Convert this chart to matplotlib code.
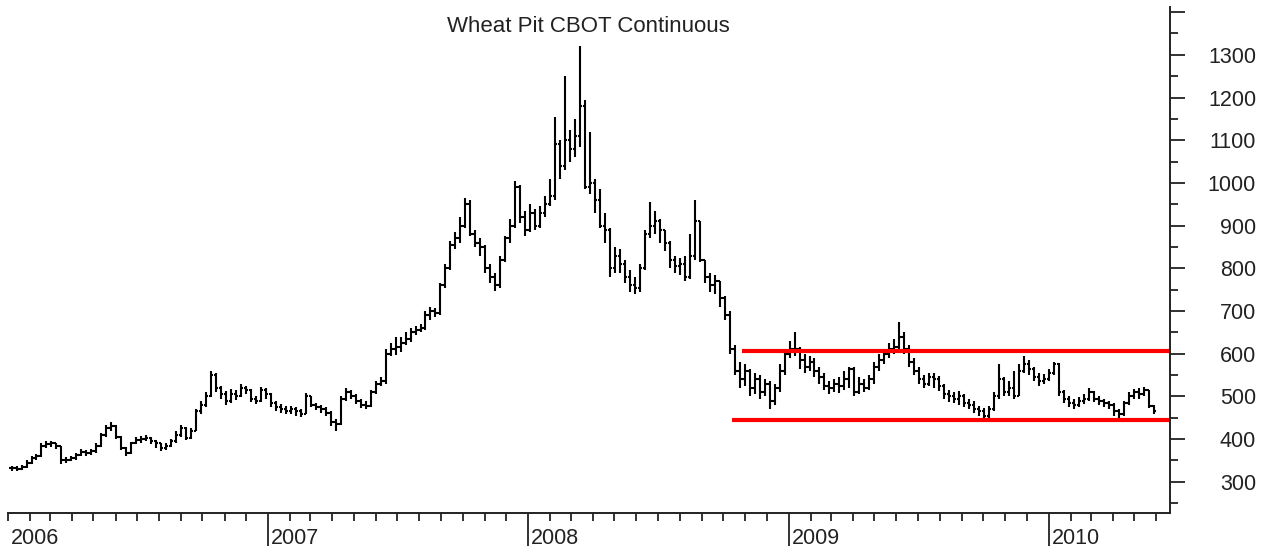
import pandas as pd
import matplotlib.pyplot as plt
import matplotlib.dates as mdates
from matplotlib.ticker import MultipleLocator, FixedLocator, NullFormatter

plt.rcParams['font.family'] = ['Liberation Sans', 'DejaVu Sans']

# weekly bars, Wheat Pit CBOT continuous (cents/bushel)
closes = [332, 330, 335, 345, 355, 360, 385, 388, 390, 385,
          350, 352, 355, 362, 370, 368, 372, 385, 410, 425,
          430, 405, 380, 368, 390, 398, 400, 402, 395, 390,
          380, 385, 395, 410, 425, 403, 420, 465, 480, 500,
          550, 520, 505, 490, 505, 500, 520, 515, 495, 490,
          515, 505, 485, 475, 470, 465, 470, 465, 460, 500,
          480, 475, 470, 462, 440, 435, 495, 510, 500, 490,
          480, 478, 510, 530, 535, 600, 610, 615, 625, 635,
          650, 655, 660, 690, 700, 695, 760, 800, 855, 870,
          900, 950, 880, 860, 850, 800, 780, 760, 820, 870,
          900, 990, 920, 890, 930, 900, 930, 950, 970, 1090,
          1040, 1100, 1080, 1110, 1180, 990, 1000, 960, 900, 890,
          800, 830, 810, 780, 760, 755, 800, 880, 900, 910,
          890, 860, 820, 805, 810, 780, 830, 910, 820, 780,
          760, 770, 730, 690, 610, 560, 540, 560, 520, 540,
          510, 530, 490, 520, 560, 600, 610, 610, 585, 570,
          580, 560, 545, 525, 520, 530, 525, 540, 565, 510,
          530, 520, 540, 570, 585, 600, 612, 615, 640, 610,
          580, 560, 540, 530, 545, 540, 525, 505, 500, 495,
          500, 485, 480, 470, 465, 455, 470, 500, 540, 510,
          520, 500, 560, 575, 565, 545, 535, 540, 555, 575,
          510, 495, 485, 480, 490, 495, 510, 495, 490, 485,
          480, 465, 460, 485, 500, 510, 505, 515, 478, 465]

highs = [338, 337, 340, 350, 360, 365, 390, 395, 396, 392,
         385, 358, 360, 368, 378, 374, 378, 390, 415, 432,
         440, 432, 408, 382, 394, 405, 408, 410, 405, 398,
         392, 392, 400, 418, 432, 428, 425, 470, 490, 510,
         560, 555, 525, 512, 518, 515, 528, 525, 518, 500,
         522, 520, 508, 490, 482, 478, 478, 475, 470, 508,
         502, 485, 480, 475, 465, 448, 500, 520, 515, 505,
         495, 490, 515, 535, 545, 610, 625, 640, 640, 650,
         660, 665, 670, 700, 710, 708, 765, 810, 865, 885,
         920, 965, 960, 890, 870, 855, 810, 790, 830, 875,
         915, 1005, 995, 935, 950, 940, 945, 970, 1010, 1155,
         1100, 1250, 1125, 1150, 1320, 1195, 1120, 1010, 985, 930,
         895, 850, 845, 820, 795, 780, 810, 890, 955, 935,
         915, 890, 865, 830, 825, 830, 880, 960, 910, 820,
         790, 785, 770, 735, 700, 620, 580, 575, 565, 555,
         550, 540, 535, 530, 575, 610, 630, 650, 615, 600,
         595, 590, 570, 555, 535, 540, 545, 560, 570, 570,
         545, 540, 550, 580, 600, 610, 625, 635, 675, 650,
         620, 590, 570, 550, 555, 555, 548, 530, 515, 510,
         512, 505, 495, 490, 478, 472, 478, 510, 575, 545,
         535, 560, 575, 595, 585, 570, 555, 552, 565, 580,
         578, 515, 500, 495, 498, 505, 520, 512, 500, 495,
         490, 485, 470, 490, 510, 518, 520, 522, 515, 480]

lows = [326, 325, 328, 333, 342, 350, 358, 380, 382, 378,
        342, 345, 348, 352, 360, 360, 362, 368, 382, 405,
        418, 400, 375, 360, 365, 388, 392, 395, 388, 380,
        372, 375, 382, 390, 405, 398, 400, 418, 460, 475,
        498, 510, 495, 480, 485, 492, 498, 505, 488, 482,
        488, 495, 475, 465, 462, 458, 460, 455, 452, 458,
        475, 468, 462, 455, 430, 420, 432, 490, 495, 482,
        472, 470, 475, 505, 525, 530, 595, 598, 605, 620,
        628, 645, 650, 655, 680, 685, 690, 755, 795, 845,
        860, 895, 875, 850, 830, 790, 765, 748, 755, 815,
        860, 895, 905, 875, 885, 890, 895, 920, 945, 960,
        1010, 1030, 1050, 1060, 1085, 985, 975, 930, 895, 860,
        780, 790, 790, 765, 745, 740, 745, 795, 870, 880,
        860, 840, 800, 790, 785, 770, 775, 820, 815, 765,
        745, 740, 710, 680, 600, 550, 520, 525, 500, 505,
        495, 500, 470, 480, 510, 550, 590, 595, 565, 555,
        560, 545, 530, 515, 505, 510, 508, 515, 520, 500,
        505, 510, 515, 530, 560, 575, 590, 600, 610, 600,
        570, 550, 530, 520, 525, 520, 512, 495, 488, 485,
        480, 475, 470, 462, 455, 448, 445, 465, 495, 500,
        500, 495, 500, 555, 550, 535, 525, 528, 535, 550,
        500, 485, 475, 470, 475, 482, 490, 488, 480, 475,
        470, 455, 450, 455, 480, 495, 495, 500, 472, 460]

dates = pd.date_range('2006-01-06', periods=len(closes), freq='W-FRI')
opens = [closes[0]] + closes[:-1]

# horizontal range lines drawn on the chart
band_levels = [607, 445]
band_starts = ['2008-10-27', '2008-10-13']
band_end = '2010-06-20'

year_ticks = ['2007-01-01', '2008-01-01', '2009-01-01', '2010-01-01']
year_labels = ['2006', '2007', '2008', '2009', '2010']
year_label_dates = ['2006-01-01'] + year_ticks

fig = plt.figure(figsize=(12.68, 5.51), dpi=100)
ax = fig.add_axes([8 / 1268, 38 / 551, 1162 / 1268, 506 / 551])

x = mdates.date2num(dates)
ax.vlines(x, lows, highs, color='black', lw=1.5)
ax.hlines(opens, x - 3.2, x, color='black', lw=1.5)
ax.hlines(closes, x, x + 3.2, color='black', lw=1.5)

for lev, start in zip(band_levels, band_starts):
    ax.hlines(lev, mdates.datestr2num(start), mdates.datestr2num(band_end),
              color='#ff0000', lw=3)

ax.set_xlim(mdates.datestr2num('2006-01-01'), mdates.datestr2num(band_end))
ax.set_ylim(227, 1412)

# spines: bottom and right only
for side in ['top', 'left']:
    ax.spines[side].set_visible(False)
for side in ['bottom', 'right']:
    ax.spines[side].set_linewidth(1.4)
    ax.spines[side].set_color('#222222')

# y axis on the right
ax.yaxis.tick_right()
ax.set_yticks(range(300, 1500, 100))
ax.set_yticklabels([str(v) for v in range(300, 1400, 100)] + [''])
ax.yaxis.set_minor_locator(MultipleLocator(100, offset=50))
ax.tick_params(axis='y', which='major', length=11, width=1.3, pad=51,
               labelsize=15.5, colors='#222222')
ax.tick_params(axis='y', which='minor', length=5.5, width=1.3, colors='#222222')
for lbl in ax.get_yticklabels():
    lbl.set_horizontalalignment('right')

# x axis: long ticks at years, short ticks at months
ax.xaxis.set_major_locator(FixedLocator(mdates.datestr2num(year_ticks)))
ax.xaxis.set_major_formatter(NullFormatter())
ax.xaxis.set_minor_locator(mdates.MonthLocator())
ax.tick_params(axis='x', which='major', length=24, width=1.3, colors='#222222')
ax.tick_params(axis='x', which='minor', length=6, width=1.3, colors='#222222')

for d, lab in zip(year_label_dates, year_labels):
    ax.annotate(lab, xy=(mdates.datestr2num(d), 0), xycoords=('data', 'axes fraction'),
                xytext=(2, -11), textcoords='offset points', ha='left', va='top',
                fontsize=15.5, color='#222222', annotation_clip=False)

fig.text(588 / 1268, 1 - 27 / 551, 'Wheat Pit CBOT Continuous', ha='center',
         va='center', fontsize=16, color='#222222')

fig.savefig('out.png', dpi=100, facecolor='white')
